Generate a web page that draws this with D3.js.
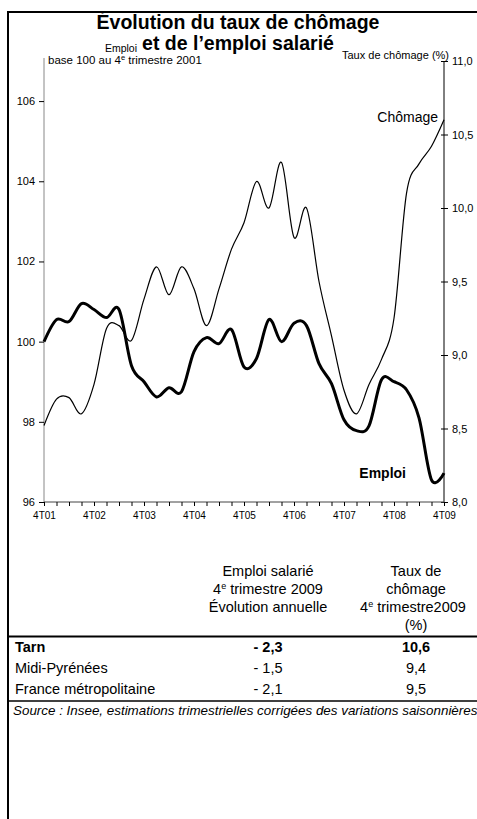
<!DOCTYPE html>
<html>
<head>
<meta charset="utf-8">
<script src="https://cdn.jsdelivr.net/npm/d3@7"></script>
<style>
  html, body { margin: 0; padding: 0; background: #fff; }
  svg { display: block; font-family: "Liberation Sans", Arial, sans-serif; }
</style>
</head>
<body>
<svg id="chart" width="477" height="819"></svg>
<script>
// ---------- data ----------
const quarters = ["4T01","1T02","2T02","3T02","4T02","1T03","2T03","3T03","4T03",
  "1T04","2T04","3T04","4T04","1T05","2T05","3T05","4T05","1T06","2T06","3T06","4T06",
  "1T07","2T07","3T07","4T07","1T08","2T08","3T08","4T08","1T09","2T09","3T09","4T09"];
const emploi = [100.0, 100.55, 100.5, 100.95, 100.8, 100.6, 100.8, 99.4, 99.0,
  98.62, 98.85, 98.75, 99.75, 100.1, 99.95, 100.3, 99.37, 99.58, 100.55, 100.0, 100.46,
  100.4, 99.45, 98.95, 98.05, 97.78, 97.9, 99.05, 99.0, 98.8, 98.1, 96.55, 96.72];
const chomage = [8.52, 8.7, 8.71, 8.6, 8.8, 9.18, 9.2, 9.1, 9.38,
  9.6, 9.41, 9.6, 9.45, 9.2, 9.45, 9.72, 9.9, 10.18, 10.0, 10.31, 9.8,
  10.0, 9.5, 9.13, 8.76, 8.6, 8.8, 8.97, 9.25, 10.1, 10.3, 10.42, 10.6];
const leftTicks = [96, 98, 100, 102, 104, 106];
const rightTicks = [8.0, 8.5, 9.0, 9.5, 10.0, 10.5, 11.0];
const tableRows = ["Tarn", "Midi-Pyrénées", "France métropolitaine"];
const tableEmploi = ["- 2,3", "- 1,5", "- 2,1"];
const tableChomage = ["10,6", "9,4", "9,5"];

// ---------- setup ----------
const svg = d3.select("#chart");
const W = 477;
const x = d3.scalePoint().domain(quarters).range([44, 444]);
const yL = d3.scaleLinear().domain([96, 107]).range([502, 61]);
const yR = d3.scaleLinear().domain([8, 11]).range([502, 61]);
const fr = d3.format(".1f");
const frc = v => fr(v).replace(".", ",");

// frame
svg.append("line").attr("x1", 8).attr("x2", 8).attr("y1", 12).attr("y2", 819)
  .attr("stroke", "#000").attr("stroke-width", 2);
svg.append("line").attr("x1", 7).attr("x2", W).attr("y1", 12).attr("y2", 12)
  .attr("stroke", "#000").attr("stroke-width", 2);

// title
svg.append("text").attr("x", 238).attr("y", 29).attr("text-anchor", "middle")
  .attr("font-size", 19.5).attr("font-weight", "bold").text("Évolution du taux de chômage");
svg.append("text").attr("x", 238).attr("y", 50).attr("text-anchor", "middle")
  .attr("font-size", 19.5).attr("font-weight", "bold").text("et de l\u2019emploi salarié");

// axis captions
svg.append("text").attr("x", 137).attr("y", 52).attr("text-anchor", "end")
  .attr("font-size", 10.5).text("Emploi");
const base = svg.append("text").attr("x", 48).attr("y", 64).attr("font-size", 11.5);
base.append("tspan").text("base 100 au 4");
base.append("tspan").attr("font-size", 7.5).attr("dy", -4).text("e");
base.append("tspan").attr("dy", 4).text(" trimestre 2001");
svg.append("text").attr("x", 449).attr("y", 59).attr("text-anchor", "end")
  .attr("font-size", 11).text("Taux de chômage (%)");

// left axis
const gL = svg.append("g").attr("transform", "translate(44,0)")
  .call(d3.axisLeft(yL).tickValues(leftTicks).tickSize(5).tickPadding(4).tickFormat(d => d));
gL.select(".domain").attr("stroke", "#888").attr("d", "M0,58V502");
gL.selectAll("text").attr("font-size", 11).attr("font-family", "Liberation Sans, Arial");
gL.selectAll(".tick line").attr("stroke", "#000");

// right axis
const gR = svg.append("g").attr("transform", "translate(444,0)")
  .call(d3.axisRight(yR).tickValues(rightTicks).tickSize(4).tickPadding(4).tickFormat(frc));
gR.select(".domain").attr("stroke", "#000").attr("d", "M0,61V502");
gR.selectAll(".tick line").attr("x1", -3).attr("stroke", "#000");
gR.selectAll("text").attr("font-size", 11).attr("font-family", "Liberation Sans, Arial");

// bottom axis
const gB = svg.append("g").attr("transform", "translate(0,502)")
  .call(d3.axisBottom(x).tickSize(4).tickPadding(6)
    .tickFormat(d => d.startsWith("4T") ? d : ""));
gB.select(".domain").attr("stroke", "#444").attr("d", "M44,0H444");
gB.selectAll("text").attr("font-size", 10).attr("font-family", "Liberation Sans, Arial");
gB.selectAll(".tick line").attr("stroke", "#000");

// lines
const curve = d3.curveCatmullRom.alpha(0);
const lineE = d3.line().x((d, i) => x(quarters[i])).y(d => yL(d)).curve(curve);
const lineC = d3.line().x((d, i) => x(quarters[i])).y(d => yR(d)).curve(curve);
svg.append("path").datum(chomage).attr("d", lineC).attr("fill", "none")
  .attr("stroke", "#000").attr("stroke-width", 1.2);
svg.append("path").datum(emploi).attr("d", lineE).attr("fill", "none")
  .attr("stroke", "#000").attr("stroke-width", 3).attr("stroke-linejoin", "round");

// series labels
svg.append("text").attr("x", 438).attr("y", 122).attr("text-anchor", "end")
  .attr("font-size", 14).text("Chômage");
svg.append("text").attr("x", 406).attr("y", 478).attr("text-anchor", "end")
  .attr("font-size", 14).attr("font-weight", "bold").text("Emploi");

// ---------- table ----------
const c1 = 268, c2 = 416;
const fs = 14.5;
const th = svg.append("g").attr("font-size", fs).attr("text-anchor", "middle");
th.append("text").attr("x", c1).attr("y", 576).text("Emploi salarié");
const t1 = th.append("text").attr("x", c1).attr("y", 594);
t1.append("tspan").text("4");
t1.append("tspan").attr("font-size", 9).attr("dy", -5).text("e");
t1.append("tspan").attr("dy", 5).text(" trimestre 2009");
th.append("text").attr("x", c1).attr("y", 612).text("Évolution annuelle");
th.append("text").attr("x", c2).attr("y", 576).text("Taux de");
th.append("text").attr("x", c2).attr("y", 594).text("chômage");
const t2 = th.append("text").attr("x", c2 - 3).attr("y", 612);
t2.append("tspan").text("4");
t2.append("tspan").attr("font-size", 9).attr("dy", -5).text("e");
t2.append("tspan").attr("dy", 5).text(" trimestre2009");
th.append("text").attr("x", c2).attr("y", 630).text("(%)");

svg.append("line").attr("x1", 7).attr("x2", W).attr("y1", 636.5).attr("y2", 636.5)
  .attr("stroke", "#000").attr("stroke-width", 2);
svg.append("line").attr("x1", 7).attr("x2", W).attr("y1", 701).attr("y2", 701)
  .attr("stroke", "#000").attr("stroke-width", 1.5);

const rowY = [652, 673, 694];
tableRows.forEach((r, i) => {
  const bold = i === 0 ? "bold" : "normal";
  svg.append("text").attr("x", 15).attr("y", rowY[i]).attr("font-size", fs)
    .attr("font-weight", bold).text(r);
  svg.append("text").attr("x", c1).attr("y", rowY[i]).attr("font-size", fs)
    .attr("text-anchor", "middle").attr("font-weight", bold).text(tableEmploi[i]);
  svg.append("text").attr("x", c2).attr("y", rowY[i]).attr("font-size", fs)
    .attr("text-anchor", "middle").attr("font-weight", bold).text(tableChomage[i]);
});

svg.append("text").attr("x", 13).attr("y", 715).attr("font-size", 13.4)
  .attr("font-style", "italic")
  .text("Source : Insee, estimations trimestrielles corrigées des variations saisonnières");
</script>
</body>
</html>
